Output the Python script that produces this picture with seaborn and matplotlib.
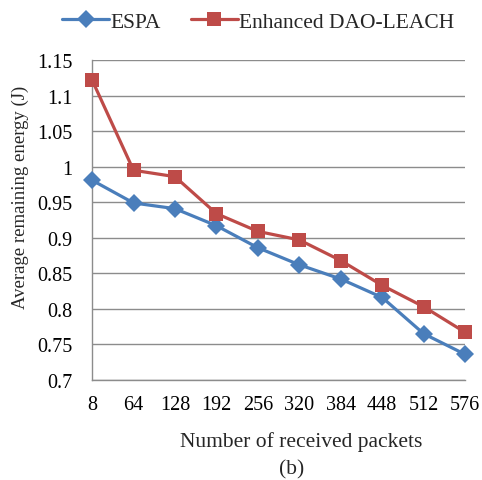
import pandas as pd
import matplotlib.pyplot as plt
import seaborn as sns

sns.set_theme(style='white')
plt.rcParams['font.family'] = ['Liberation Serif', 'DejaVu Serif']

packets = ['8', '64', '128', '192', '256', '320', '384', '448', '512', '576']
espa = [0.981, 0.949, 0.941, 0.917, 0.886, 0.862, 0.842, 0.816, 0.765, 0.736]
dao_leach = [1.122, 0.995, 0.986, 0.934, 0.909, 0.897, 0.868, 0.833, 0.803, 0.767]

df = pd.DataFrame({
    'pos': list(range(len(packets))) * 2,
    'energy': espa + dao_leach,
    'series': ['ESPA'] * len(packets) + ['Enhanced DAO-LEACH'] * len(packets),
})

fig = plt.figure(figsize=(4.82, 4.81), dpi=100)
ax = fig.add_axes([0.191, 0.208, 0.774, 0.665])

sns.lineplot(
    data=df, x='pos', y='energy', hue='series', style='series',
    palette={'ESPA': '#4a7ebb', 'Enhanced DAO-LEACH': '#be4b48'},
    markers={'ESPA': 'D', 'Enhanced DAO-LEACH': 's'},
    dashes=False, linewidth=2.3, markersize=9, markeredgewidth=0,
    ax=ax, zorder=3, clip_on=False,
)
for line in ax.lines:
    if line.get_marker() == 's':
        line.set_markersize(10.5)

ax.set_xlim(0, len(packets) - 1)
ax.set_ylim(0.7, 1.15)
ax.set_yticks([0.7, 0.75, 0.8, 0.85, 0.9, 0.95, 1.0, 1.05, 1.1, 1.15])
ax.set_yticklabels(['0.7', '0.75', '0.8', '0.85', '0.9', '0.95', '1', '1.05', '1.1', '1.15'])
ax.set_xticks(range(len(packets)))
ax.set_xticklabels(packets)
ax.yaxis.grid(True, color='#8c8c8c', linewidth=1)
ax.set_axisbelow(True)
ax.tick_params(axis='both', labelsize=14.5, colors='black', length=5,
               color='#8c8c8c', direction='out', width=1)
ax.tick_params(axis='y', pad=9)
ax.tick_params(axis='x', pad=6)
for side in ['top', 'right']:
    ax.spines[side].set_visible(False)
for side in ['left', 'bottom']:
    ax.spines[side].set_color('#8c8c8c')
    ax.spines[side].set_linewidth(1)

ax.set_xlabel('Number of received packets', fontsize=15.5)
ax.xaxis.set_label_coords(0.56, -0.16)
ax.set_ylabel('Average remaining energy (J)', fontsize=13.5)
ax.yaxis.set_label_coords(-0.168, 0.575)
fig.text(0.606, 0.013, '(b)', fontsize=15.5, ha='center')

handles, labels = ax.get_legend_handles_labels()
ax.legend(handles, labels, loc='center', bbox_to_anchor=(0.445, 1.12), ncol=2,
          frameon=False, fontsize=15.5, handlelength=2.2, handletextpad=0.05,
          columnspacing=1.4)

fig.savefig('out.png', dpi=100)
